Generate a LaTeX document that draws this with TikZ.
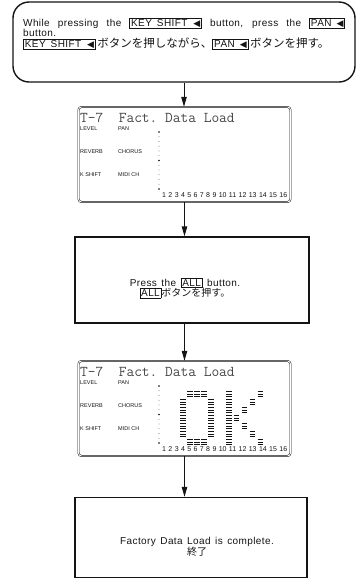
\documentclass[tikz,border=0pt]{standalone}
\usepackage{fontspec}
\setmainfont{Liberation Sans}
\newfontfamily\manual[LetterSpace=4]{Liberation Sans}
\newfontfamily\jpfont{Noto Sans CJK JP}
\newfontfamily\symfont{DejaVu Sans}
\usepackage{tikz}
\usetikzlibrary{arrows.meta,positioning}
\definecolor{ink}{RGB}{20,20,20}
\definecolor{lcdgray}{RGB}{70,70,70}
\newcommand\keycap[1]{{\setlength\fboxsep{1pt}\setlength\fboxrule{0.7pt}\fbox{#1}}}
\newcommand\larr{{\symfont\fontsize{9}{9}\selectfont ◀}}
\newcommand\widespaces{\spaceskip=4.5pt plus 2pt\relax}

\begin{document}
\begin{tikzpicture}[x=1pt,y=-1pt,
  panel/.style={draw=ink,line width=1.4pt,inner sep=0pt},
  flow/.style={draw=ink,line width=1pt,-{Triangle[length=10pt,width=5.5pt]}},
  boxtext/.style={font=\manual\fontsize{10}{10.5}\selectfont\widespaces,inner sep=0pt,text=ink},
  lcdframe/.style={draw=ink,double,double distance=0.9pt,line width=0.5pt,rounded corners=3pt,
    minimum width=212pt,minimum height=95pt,inner sep=0pt},
  lcdtitle/.style={font=\ttfamily\fontsize{15}{15}\selectfont\addfontfeature{LetterSpace=10.5},
    text=lcdgray,inner sep=0pt,anchor=base west},
  lcdlabel/.style={font=\fontsize{5.5}{6}\selectfont,inner sep=0pt,anchor=west,text=ink},
  lcdpix/.style={draw=ink,line width=0.8pt}]
  \useasboundingbox (0,0) rectangle (359,582);

  % step 1: hold KEY SHIFT, press PAN
  \node[panel,rounded corners=16pt,minimum width=342pt,minimum height=80pt] (instr) at (184,42) {};
  \node[boxtext,align=left,anchor=north west] (instrTxt) at (23,17.5) {%
    \makebox[322pt][s]{While pressing the \keycap{KEY\hspace{5pt}SHIFT\hspace{6pt}\larr} button, press the \keycap{PAN\hspace{5pt}\larr}}\\
    button.\\
    \keycap{KEY\hspace{5pt}SHIFT\hspace{6pt}\larr}\,{\jpfont\fontsize{11.5}{11.5}\selectfont ボタンを押しながら、}\keycap{PAN\hspace{5pt}\larr}\,{\jpfont\fontsize{11.5}{11.5}\selectfont ボタンを押す。}};

  % the two screens
  \foreach \nm/\top in {lcdA/107,lcdB/361} {
    \node[lcdframe] (\nm) at (184.5,\top+47.5) {};
    \node[lcdtitle] (\nm-title) at (80,\top+15) {T-7~~Fact.~Data~Load};
    \node[lcdlabel] (\nm-lvl) at (80,\top+21.5) {LEVEL};
    \node[lcdlabel] (\nm-pan) at (118,\top+21.5) {PAN};
    \node[lcdlabel] (\nm-rev) at (80,\top+45) {REVERB};
    \node[lcdlabel] (\nm-cho) at (118,\top+45) {CHORUS};
    \node[lcdlabel] (\nm-ksh) at (80,\top+68) {K SHIFT};
    \node[lcdlabel] (\nm-midi) at (118,\top+68) {MIDI CH};
    \foreach \k in {0,...,12}
      \fill[ink] (159,\top+25+4.75*\k) circle (0.4pt);
    \foreach \k in {0,6,12}
      \fill[ink] (159,\top+25+4.75*\k) circle (0.9pt);
    \node[lcdlabel,font=\fontsize{7}{7}\selectfont] (\nm-num) at (162,\top+88.5)
      {\makebox[125pt][s]{1 2 3 4 5 6 7 8 9 10 11 12 13 14 15 16}};
  }

  % dot matrix OK on the second screen
  \foreach \c/\r in {1/0,2/0,3/0,0/1,4/1,0/2,4/2,0/3,4/3,0/4,4/4,0/5,4/5,1/6,2/6,3/6}
    \foreach \dy in {-2.4,0,2.4}
      \draw[lcdpix] (183+7*\c-2.6,394+8*\r+\dy) -- ++(5.2,0);
  \foreach \c/\r in {0/0,0/1,0/2,0/3,0/4,0/5,0/6,4/0,3/1,2/2,1/3,2/4,3/5,4/6}
    \foreach \dy in {-2.4,0,2.4}
      \draw[lcdpix] (229+7.8*\c-2.6,394+8*\r+\dy) -- ++(5.2,0);

  % step 2: press ALL
  \node[panel,minimum width=234pt,minimum height=86pt] (press) at (192,280) {};
  \node[boxtext,align=center] (pressTxt) at (185,288)
    {Press the \keycap{ALL} button.\\\keycap{ALL}{\jpfont ボタンを押す。}};

  % done
  \node[panel,minimum width=232pt,minimum height=80pt] (done) at (191,537.5) {};
  \node[boxtext,align=center] (doneTxt) at (197,547)
    {Factory Data Load is complete.\\{\jpfont 終了}};

  \draw[flow] (instr.south) -- (instr.south |- lcdA.north);
  \draw[flow] (lcdA.south) -- (lcdA.south |- press.north);
  \draw[flow] (lcdB.north |- press.south) -- (lcdB.north);
  \draw[flow] (lcdB.south) -- (lcdB.south |- done.north);
\end{tikzpicture}
\end{document}
